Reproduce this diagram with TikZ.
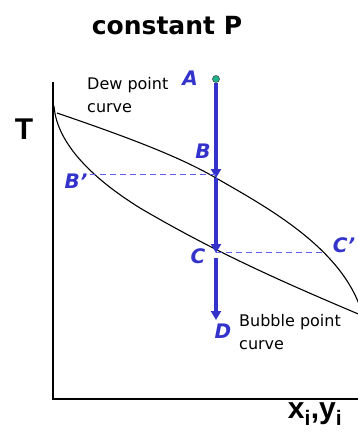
\documentclass[tikz,border=0pt]{standalone}
\usepackage{fontspec}
\setmainfont{DejaVu Sans}
\newfontfamily\axisfont{Liberation Sans}
\usetikzlibrary{arrows.meta}
\definecolor{ptblue}{RGB}{51,51,204}
\definecolor{tieblue}{RGB}{95,95,235}
\definecolor{dotgreen}{RGB}{30,180,140}

\begin{document}
\begin{tikzpicture}[x=1pt, y=-1pt,
    lbl/.style={text=ptblue, font=\bfseries\itshape\fontsize{20}{20}\selectfont},
    route/.style={-{Triangle[length=9pt,width=10pt]}, line width=3.6pt, ptblue},
    tie/.style={dash pattern=on 6pt off 4pt, line width=0.8pt, tieblue},
    phase/.style={line width=1.1pt},
    note/.style={align=left, inner sep=0pt, anchor=base west, font=\fontsize{16}{23}\selectfont},
    axlabel/.style={font=\axisfont\bfseries\fontsize{30}{30}\selectfont}
]
    \useasboundingbox (0,0) rectangle (358,434);

    % Title
    \node[font=\bfseries\fontsize{25}{25}\selectfont] (title) at (167,26) {constant P};

    % Axes
    \coordinate (top) at (53,82);
    \coordinate (orig) at (53,399);
    \coordinate (xend) at (358,399);
    \draw[line width=2pt] (top) -- (orig) -- (xend);
    \node[axlabel] (tlab) at (24,129) {T};
    \node[axlabel] (xlab) at (315,414) {x\textsubscript{i},y\textsubscript{i}};

    % Dew point and bubble point curves
    \draw[phase] (57,113) .. controls (130,138) and (180,157) .. (216,178)
                 .. controls (270,209) and (345,250) .. (363,316);
    \draw[phase] (54,106) .. controls (57,145) and (95,180) .. (140,208)
                 .. controls (220,255) and (290,285) .. (363,316);
    \node[note] (dew) at (87,112) {Dew point\\curve};
    \node[note] (bub) at (239,349) {Bubble point\\curve};

    % Constant composition path
    \node[circle, fill=dotgreen, draw=black!70, line width=0.6pt, inner sep=0pt, minimum size=7pt] (A) at (216,79) {};
    \coordinate (B) at (216,178);
    \coordinate (C) at (216,253);
    \coordinate (D) at (216,320);
    \draw[route] (A) -- (B);
    \draw[route] (B) -- (C);
    \draw[route, shorten <=5pt] (C) -- (D);

    % Tie lines
    \coordinate (Bp) at (90,174);
    \coordinate (Cp) at (322,252);
    \draw[tie] (Bp) -- (Bp -| B);
    \draw[tie] (Cp -| C) -- (Cp);

    % Point labels
    \node[lbl] (labA) at (190,78) {A};
    \node[lbl] (labB) at (203,151) {B};
    \node[lbl] (labC) at (198,256) {C};
    \node[lbl] (labD) at (223,331) {D};
    \node[lbl] (labBp) at (76,181) {B’};
    \node[lbl] (labCp) at (344,245) {C’};
\end{tikzpicture}
\end{document}
